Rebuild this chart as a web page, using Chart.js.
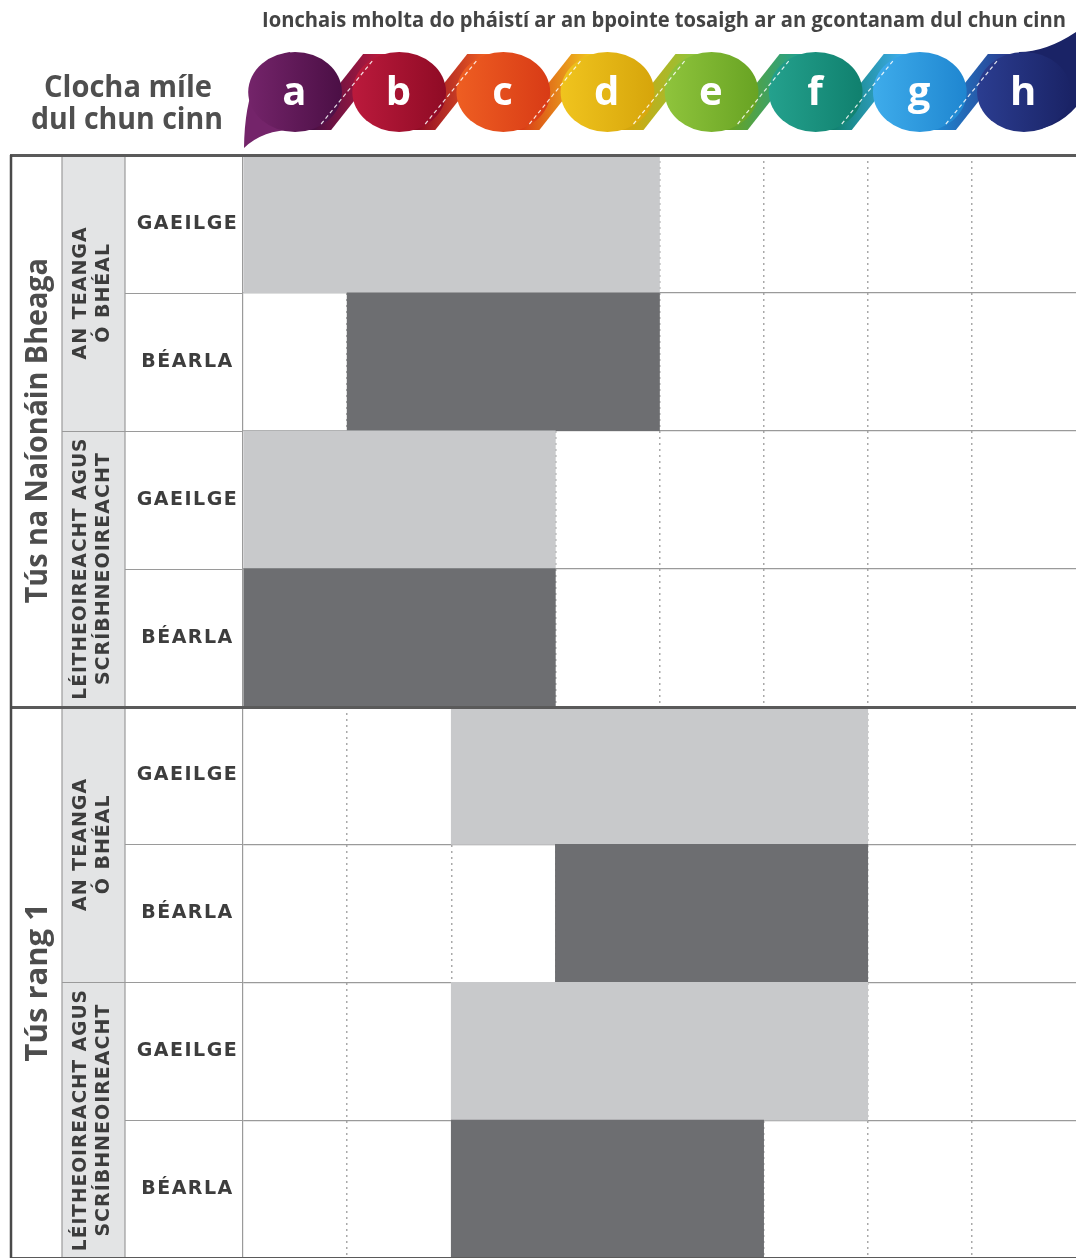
<!DOCTYPE html>
<html><head><meta charset="utf-8">
<script src="https://cdn.jsdelivr.net/npm/chart.js@4.4.1/dist/chart.umd.min.js"></script>
<style>html,body{margin:0;padding:0;background:#fff}#wrap{width:1076px;height:1258px;position:relative}</style>
</head><body><div id="wrap"><canvas id="c"></canvas></div>
<script>
// ---- data ----
const milestones = ['a','b','c','d','e','f','g','h'];
const rowLabels = ['GAEILGE','BÉARLA','GAEILGE','BÉARLA','GAEILGE','BÉARLA','GAEILGE','BÉARLA'];
const barStart = [0,1,0,0,2,3,2,2];
const barEnd   = [4,4,3,3,6,6,6,5];
const skillLabels = [['AN TEANGA','Ó BHÉAL'],['LÉITHEOIREACHT AGUS','SCRÍBHNEOIREACHT'],['AN TEANGA','Ó BHÉAL'],['LÉITHEOIREACHT AGUS','SCRÍBHNEOIREACHT']];
const stageLabels = ['Tús na Naíonáin Bheaga','Tús rang 1'];
const headerTitle = 'Ionchais mholta do pháistí ar an bpointe tosaigh ar an gcontanam dul chun cinn';
const cornerTitle = ['Clocha míle','dul chun cinn'];

// ---- styles ----
const ribbonColors = [['#74246a','#4b0f45'],['#bb1a3c','#8f0b25'],['#ee5e22','#d83b16'],['#f0c41e','#d6a50b'],['#8fc43c','#68a323'],['#24a18d','#10806e'],['#3eaceb','#1f86d0'],['#2b3d90','#1a2366']];
const LIGHT = '#c8c9cb', DARK = '#6d6e71';

function drawRibbon(ctx, xs){
  const cy = 92, ry = 40;
  const w = xs.getPixelForValue(1) - xs.getPixelForValue(0);
  const rx = w*0.45;
  for (let i=0;i<milestones.length-1;i++){
    const B = xs.getPixelForValue(i+1);
    const g = ctx.createLinearGradient(B-34,0,B+34,0);
    g.addColorStop(0, ribbonColors[i][1]); g.addColorStop(1, ribbonColors[i+1][0]);
    ctx.fillStyle = g;
    ctx.beginPath();
    ctx.moveTo(B-44, cy+38); ctx.lineTo(B-16, cy+38);
    ctx.lineTo(B+44, cy-38); ctx.lineTo(B+16, cy-38); ctx.closePath(); ctx.fill();
  }
  const ca = xs.getPixelForValue(0.5), ch = xs.getPixelForValue(7.5);
  const left = xs.getPixelForValue(0), right = xs.getPixelForValue(8);
  ctx.fillStyle = ribbonColors[0][0];
  ctx.beginPath();
  ctx.moveTo(ca+5, cy+38);
  ctx.quadraticCurveTo(ca-30, cy+36, left+1, cy+56);
  ctx.quadraticCurveTo(left+2, cy-30, ca-5, cy-40);
  ctx.closePath(); ctx.fill();
  ctx.fillStyle = ribbonColors[7][1];
  ctx.beginPath();
  ctx.moveTo(ch-5, cy-40);
  ctx.quadraticCurveTo(right-30, cy-40, right, cy-60);
  ctx.lineTo(right, cy+15);
  ctx.quadraticCurveTo(right-20, cy+38, ch, cy+39);
  ctx.closePath(); ctx.fill();
  for (let i=0;i<milestones.length;i++){
    const cx = xs.getPixelForValue(i+0.5);
    const g = ctx.createLinearGradient(cx-rx,0,cx+rx,0);
    g.addColorStop(0, ribbonColors[i][0]); g.addColorStop(1, ribbonColors[i][1]);
    ctx.fillStyle = g;
    ctx.beginPath(); ctx.ellipse(cx, cy, rx, ry, 0, 0, Math.PI*2); ctx.fill();
  }
  ctx.strokeStyle = 'rgba(255,255,255,0.85)'; ctx.lineWidth = 1.2; ctx.setLineDash([4,3]);
  for (let i=0;i<milestones.length-1;i++){
    const B = xs.getPixelForValue(i+1);
    ctx.beginPath(); ctx.moveTo(B-26, cy+32); ctx.lineTo(B+26, cy-32); ctx.stroke();
  }
  ctx.setLineDash([]);
}

const decor = {
  id:'decor',
  beforeDraw(chart){
    const {ctx, chartArea:ca, scales} = chart;
    ctx.save();
    ctx.fillStyle = '#fff'; ctx.fillRect(0,0,chart.width,chart.height);
    ctx.fillStyle = '#e3e4e5'; ctx.fillRect(62, ca.top, 63, ca.bottom-ca.top);
    drawRibbon(ctx, scales.x);
    ctx.fillStyle = '#444'; ctx.textBaseline = 'alphabetic';
    ctx.font = 'bold 22px "Open Sans"'; ctx.textAlign = 'right';
    ctx.fillText(headerTitle, 1066, 27, 804);
    ctx.fillStyle = '#4f4f4f'; ctx.textAlign = 'center';
    ctx.font = 'bold 31px "Open Sans"';
    ctx.fillText(cornerTitle[0], 128, 97, 168);
    ctx.fillText(cornerTitle[1], 127, 129, 192);
    ctx.restore();
    ctx.letterSpacing = '1.5px';
  },
  beforeDatasetsDraw(chart){
    chart.ctx.letterSpacing = '0px';
  },
  afterDraw(chart){
    const {ctx, chartArea:ca, scales:{y}} = chart;
    const half = (y.getPixelForValue(1) - y.getPixelForValue(0))/2;
    const n = rowLabels.length;
    ctx.save();
    ctx.strokeStyle = '#9a9a9a'; ctx.lineWidth = 1.2;
    [62,125].forEach(xx=>{ctx.beginPath(); ctx.moveTo(xx, ca.top); ctx.lineTo(xx, ca.bottom); ctx.stroke();});
    for (let k=0;k<=n;k++){
      const yy = Math.round(y.getPixelForValue(k) - half) + 0.5;
      if (k%4===0){
        ctx.strokeStyle = '#5a5a5a'; ctx.lineWidth = 3;
        ctx.beginPath(); ctx.moveTo(10, yy); ctx.lineTo(ca.right, yy); ctx.stroke();
      } else {
        ctx.strokeStyle = '#9a9a9a'; ctx.lineWidth = 1.2;
        ctx.beginPath(); ctx.moveTo(k%2===0?62:125, yy); ctx.lineTo(ca.left, yy); ctx.stroke();
      }
    }
    ctx.strokeStyle = '#4a4a4a'; ctx.lineWidth = 2.5;
    ctx.beginPath(); ctx.moveTo(11, ca.top); ctx.lineTo(11, ca.bottom); ctx.stroke();
    ctx.textAlign = 'center'; ctx.textBaseline = 'middle';
    stageLabels.forEach((t, s)=>{
      const cy = (y.getPixelForValue(s*4) + y.getPixelForValue(s*4+3))/2;
      ctx.save(); ctx.translate(38, cy); ctx.rotate(-Math.PI/2);
      ctx.letterSpacing = '0px';
      ctx.fillStyle = '#4d4d4d'; ctx.font = 'bold 31px "Open Sans"';
      ctx.fillText(t, 0, 0, 345);
      ctx.restore();
    });
    skillLabels.forEach((lines, s)=>{
      const cy = (y.getPixelForValue(s*2) + y.getPixelForValue(s*2+1))/2;
      ctx.save(); ctx.translate(0, cy); ctx.rotate(-Math.PI/2);
      ctx.letterSpacing = '1px';
      ctx.fillStyle = '#3c3c3c'; ctx.font = 'bold 19px "DejaVu Sans"';
      ctx.fillText(lines[0], 0, 81, 262);
      ctx.fillText(lines[1], 0, 104, 262);
      ctx.restore();
    });
    ctx.restore();
  }
};

new Chart(document.getElementById('c'), {
  type: 'bar',
  data: {
    labels: rowLabels,
    datasets: [{
      data: rowLabels.map((_, i) => [barStart[i], barEnd[i]]),
      backgroundColor: rowLabels.map(l => l === 'GAEILGE' ? LIGHT : DARK),
      borderWidth: 0,
      barPercentage: 1,
      categoryPercentage: 1
    }]
  },
  options: {
    indexAxis: 'y',
    responsive: true,
    maintainAspectRatio: false,
    animation: false,
    layout: { padding: 0 },
    plugins: { legend: { display: false }, tooltip: { enabled: false } },
    scales: {
      x: {
        type: 'linear', min: 0, max: 8, position: 'bottom', z: 1,
        ticks: { display: false, stepSize: 1 },
        border: { display: false, dash: [2,4] },
        grid: {
          drawTicks: false, lineWidth: 1.5,
          color: c => (c.tick && (c.tick.value === 0 || c.tick.value === 8)) ? 'rgba(0,0,0,0)' : 'rgba(160,160,160,0.9)'
        },
        afterFit: s => { s.height = 0; s.paddingLeft = 0; s.paddingRight = 0; }
      },
      x2: {
        type: 'category', labels: milestones, position: 'top', offset: true,
        grid: { display: false }, border: { display: false },
        ticks: { color: '#ffffff', font: { family: '"Open Sans"', size: 40, weight: 'bold', lineHeight: 1.2 }, padding: 29, maxRotation: 0, autoSkip: false },
        afterFit: s => { s.height = 155; s.paddingLeft = 0; s.paddingRight = 0; }
      },
      y: {
        type: 'category', position: 'left',
        ticks: { color: '#3d3d3d', font: { family: '"DejaVu Sans"', size: 19, weight: 'bold' }, crossAlign: 'center', padding: 10 },
        grid: { offset: true, drawTicks: false, color: '#9a9a9a', lineWidth: 1.2 },
        border: { display: true, color: '#9a9a9a', width: 1.2 },
        afterFit: s => { s.width = 243; s.paddingTop = 0; s.paddingBottom = 0; }
      }
    }
  },
  plugins: [decor]
});
</script>
</body></html>
